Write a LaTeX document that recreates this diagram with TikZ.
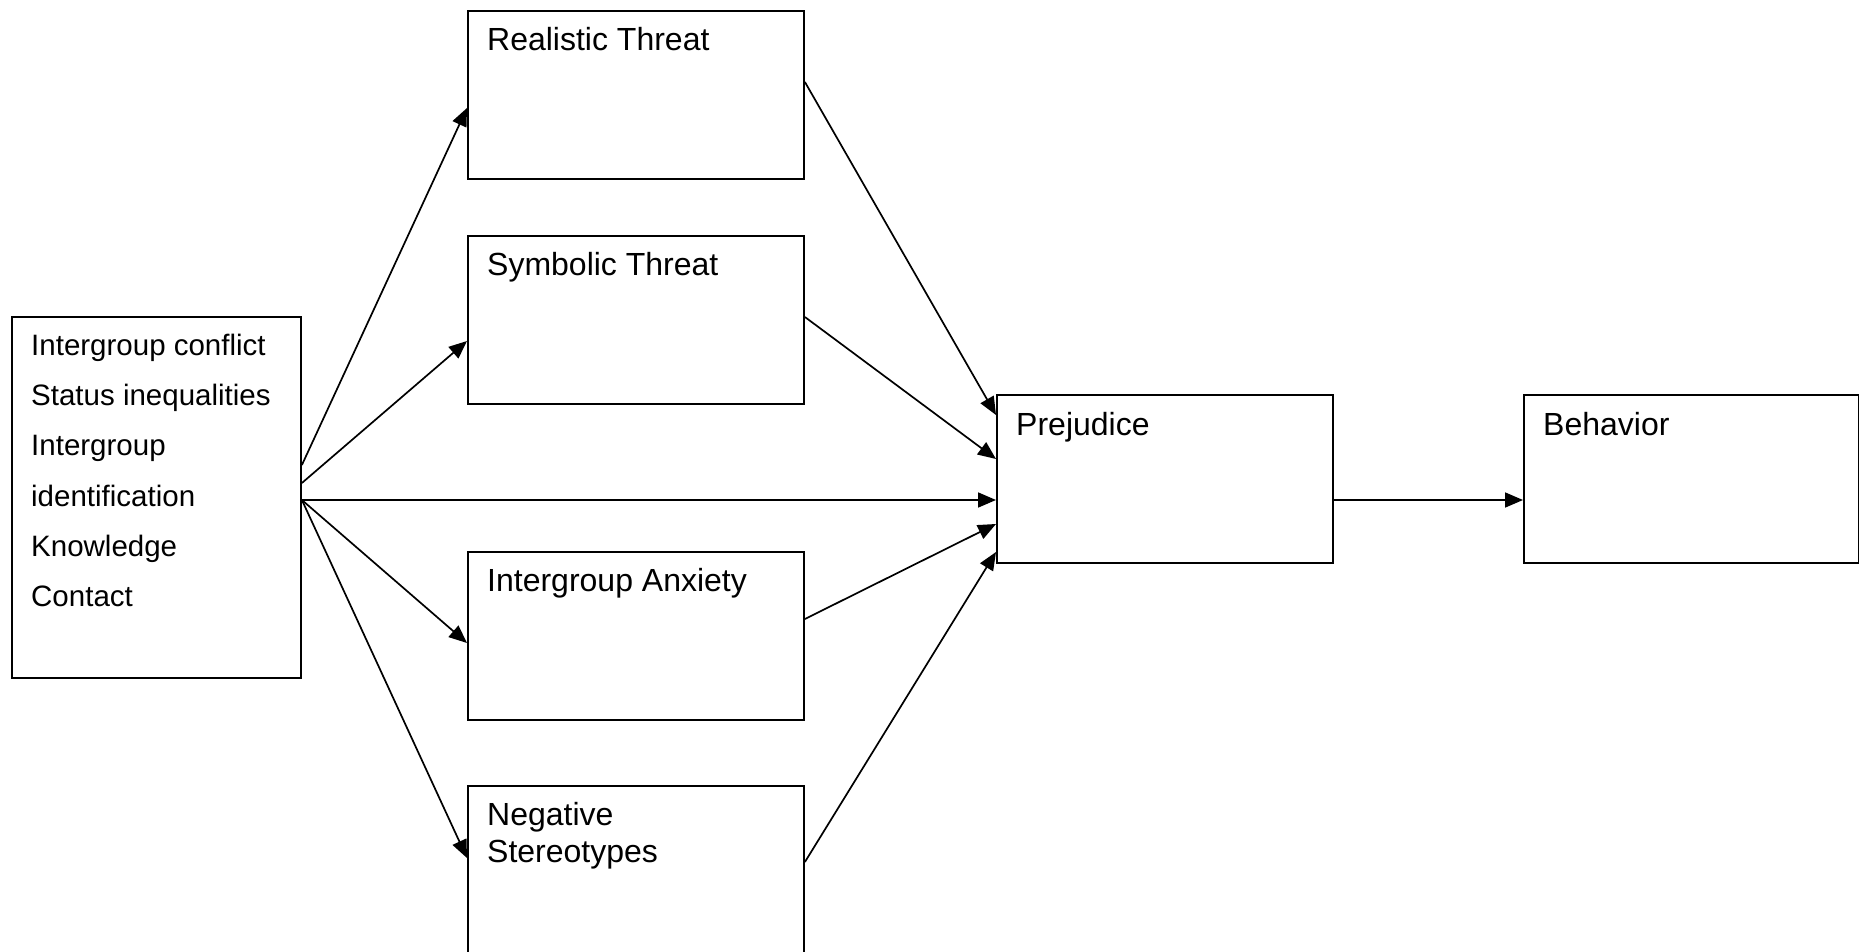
\documentclass[tikz,border=0pt]{standalone}
\usepackage{fontspec}
\setmainfont{Liberation Sans}
\usetikzlibrary{arrows.meta,calc}
\begin{document}
\begin{tikzpicture}[x=1pt,y=-1pt,
  box/.style={draw, line width=1.9pt, rectangle, inner sep=0pt, anchor=north west, minimum width=336pt, minimum height=168pt},
  lbl/.style={anchor=base west, inner sep=0pt, font=\fontsize{32}{37}\selectfont},
  lbltwo/.style={anchor=base west, inner sep=0pt, font=\fontsize{29.5}{35}\selectfont},
  conn/.style={line width=1.7pt, -{Triangle[length=18pt,width=15pt]}}]
\useasboundingbox (0,0) rectangle (1859,952);
\clip (0,0) rectangle (1859,952);
% boxes
\node[box, minimum width=289pt, minimum height=361pt] (lb) at (11,316) {};
\node[box] (rt) at (467,10) {};
\node[box] (st) at (467,235) {};
\node[box] (ia) at (467,551) {};
\node[box] (ns) at (467,785) {};
\node[box] (pj) at (996,394) {};
\node[box, minimum width=335pt] (bh) at (1523,394) {};
% labels
\node[lbltwo] (l1) at ($(lb.north west)+(20,39)$) {Intergroup conflict};
\node[lbltwo] (l2) at ($(lb.north west)+(20,89)$) {Status inequalities};
\node[lbltwo] (l3) at ($(lb.north west)+(20,139)$) {Intergroup};
\node[lbltwo] (l4) at ($(lb.north west)+(20,190)$) {identification};
\node[lbltwo] (l5) at ($(lb.north west)+(20,240)$) {Knowledge};
\node[lbltwo] (l6) at ($(lb.north west)+(20,290)$) {Contact};
\node[lbl] (t1) at ($(rt.north west)+(20,40.5)$) {Realistic Threat};
\node[lbl] (t2) at ($(st.north west)+(20,40.5)$) {Symbolic Threat};
\node[lbl] (t3) at ($(ia.north west)+(20,40.5)$) {Intergroup Anxiety};
\node[lbl] (t4) at ($(ns.north west)+(20,40.5)$) {Negative};
\node[lbl] (t5) at ($(ns.north west)+(20,77)$) {Stereotypes};
\node[lbl] (t6) at ($(pj.north west)+(20,41)$) {Prejudice};
\node[lbl] (t7) at ($(bh.north west)+(20,41)$) {Behavior};
% connectors from left box
\draw[conn] ($(lb.north east)+(0,149)$) -- ($(rt.north west)+(0,98)$);
\draw[conn] ($(lb.north east)+(0,167)$) -- ($(st.north west)+(0,106)$);
\draw[conn] ($(lb.north east)+(0,184)$) -- ($(pj.north west)+(0,106)$);
\draw[conn] ($(lb.north east)+(0,184)$) -- ($(ia.north west)+(0,92)$);
\draw[conn] ($(lb.north east)+(0,184)$) -- ($(ns.north west)+(0,73)$);
% connectors to prejudice
\draw[conn] ($(rt.north east)+(0,72)$) -- ($(pj.north west)+(0,21)$);
\draw[conn] ($(st.north east)+(0,82)$) -- ($(pj.north west)+(0,65)$);
\draw[conn] ($(ia.north east)+(0,68)$) -- ($(pj.north west)+(0,130)$);
\draw[conn] ($(ns.north east)+(0,77)$) -- ($(pj.north west)+(0,158)$);
% prejudice to behavior
\draw[conn] ($(pj.north east)+(0,106)$) -- ($(bh.north west)+(0,106)$);
\end{tikzpicture}
\end{document}
